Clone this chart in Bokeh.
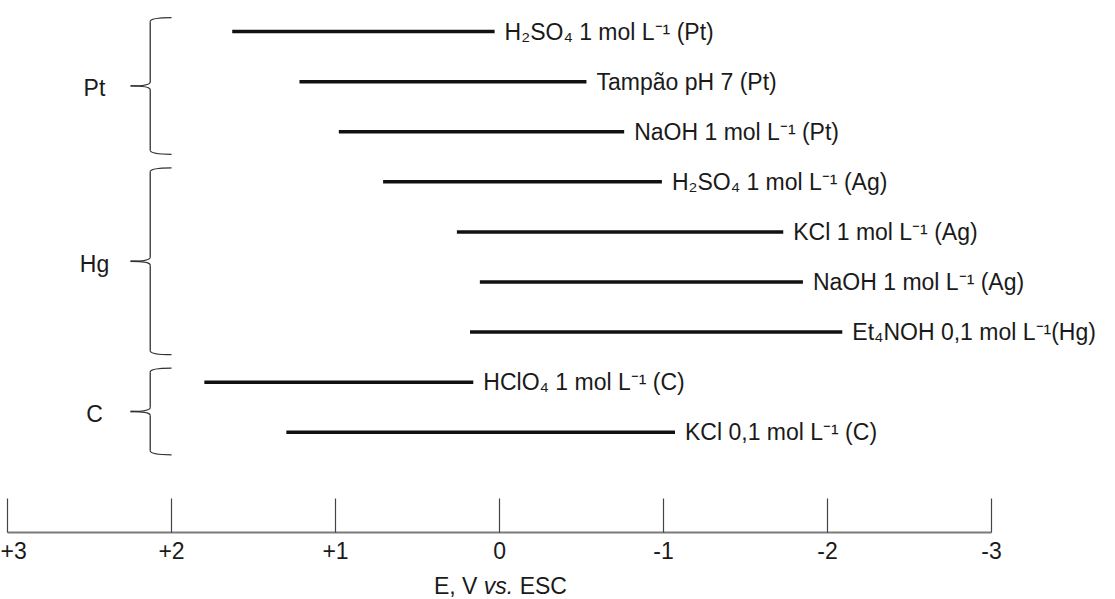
import numpy as np
from bokeh.plotting import figure
from bokeh.models import Range1d, FixedTicker, ColumnDataSource, Div
from bokeh.layouts import column
from bokeh.embed import file_html
from bokeh.resources import INLINE
from bokeh.core.properties import value

# ---------------- data ----------------
electrolytes = [
    "H₂SO₄ 1 mol L⁻¹ (Pt)",
    "Tampão pH 7  (Pt)",
    "NaOH 1 mol L⁻¹ (Pt)",
    "H₂SO₄ 1 mol L⁻¹ (Ag)",
    "KCl 1 mol L⁻¹ (Ag)",
    "NaOH 1 mol L⁻¹ (Ag)",
    "Et₄NOH 0,1 mol L⁻¹(Hg)",
    "HClO₄ 1 mol L⁻¹ (C)",
    "KCl 0,1 mol L⁻¹ (C)",
]
electrodes = ["Pt", "Pt", "Pt", "Hg", "Hg", "Hg", "Hg", "C", "C"]
anodic_limit = [1.63, 1.22, 0.98, 0.71, 0.26, 0.12, 0.18, 1.80, 1.30]      # V vs. ESC
cathodic_limit = [0.03, -0.53, -0.76, -0.99, -1.73, -1.85, -2.09, 0.16, -1.07]
group_names = ["Pt", "Hg", "C"]
tick_values = [3, 2, 1, 0, -1, -2, -3]
tick_labels = ["+3", "+2", "+1", "0", "-1", "-2", "-3"]
axis_title_html = "E, V <i>vs.</i> ESC"

rows = list(range(len(electrolytes)))

FONT = "Liberation Sans"
FSIZE = "23px"
TXT = "#1a1a1a"

p = figure(width=1115, height=570,
           x_range=Range1d(3.043, -3.756), y_range=Range1d(10.0, -0.62),
           output_backend="svg", toolbar_location=None,
           y_axis_location=None, x_axis_location="below",
           min_border_left=0, min_border_right=0, min_border_top=0,
           min_border_bottom=38)
p.xgrid.visible = False
p.ygrid.visible = False
p.outline_line_color = None
p.background_fill_color = "white"
p.border_fill_color = "white"

src = ColumnDataSource(dict(y=rows, x0=anodic_limit, x1=cathodic_limit, label=electrolytes))

# potential windows
p.segment(x0="x0", y0="y", x1="x1", y1="y", source=src, line_width=3.5, line_color="#111111")
p.text(x="x1", y="y", text="label", source=src, x_offset=10,
       text_align="left", text_baseline="middle",
       text_font=value(FONT), text_font_size=FSIZE, text_color=TXT)

# curly brackets grouping the electrodes
hook_x, spine_x, tip_x = 2.0, 2.13, 2.25
dy = 0.08
qx0, qy0, qx1, qy1, qcx, qcy = [], [], [], [], [], []
sx0, sy0, sx1, sy1 = [], [], [], []
lab_x, lab_y, lab_t = [], [], []
for g in group_names:
    idx = [i for i, e in enumerate(electrodes) if e == g]
    top = min(idx) - 0.28
    bot = max(idx) + 0.45
    mid = (top + bot) / 2
    qx0 += [hook_x]; qy0 += [top]; qx1 += [spine_x]; qy1 += [top + dy]; qcx += [spine_x]; qcy += [top]
    qx0 += [spine_x]; qy0 += [mid - dy]; qx1 += [tip_x]; qy1 += [mid]; qcx += [spine_x]; qcy += [mid]
    qx0 += [spine_x]; qy0 += [mid + dy]; qx1 += [tip_x]; qy1 += [mid]; qcx += [spine_x]; qcy += [mid]
    qx0 += [hook_x]; qy0 += [bot]; qx1 += [spine_x]; qy1 += [bot - dy]; qcx += [spine_x]; qcy += [bot]
    sx0 += [spine_x, spine_x]; sy0 += [top + dy, mid + dy]
    sx1 += [spine_x, spine_x]; sy1 += [mid - dy, bot - dy]
    lab_x.append(2.47); lab_y.append(mid + 0.05); lab_t.append(g)

p.quadratic(x0=qx0, y0=qy0, x1=qx1, y1=qy1, cx=qcx, cy=qcy, line_color="#333333", line_width=1.3)
p.segment(x0=sx0, y0=sy0, x1=sx1, y1=sy1, line_color="#333333", line_width=1.3)
p.text(x=lab_x, y=lab_y, text=lab_t, text_align="center", text_baseline="middle",
       text_font=value(FONT), text_font_size=FSIZE, text_color=TXT)

# x axis
ax = p.xaxis[0]
ax.ticker = FixedTicker(ticks=tick_values)
ax.major_label_overrides = {v: l for v, l in zip(tick_values, tick_labels)}
ax.bounds = (-3, 3)
ax.major_tick_in = 34
ax.major_tick_out = 0
ax.minor_tick_line_color = None
ax.axis_line_color = "#7a7a7a"
ax.axis_line_width = 2
ax.major_tick_line_color = "#444444"
ax.major_tick_line_width = 1.2
ax.major_label_standoff = 9
ax.major_label_text_font = FONT
ax.major_label_text_font_size = FSIZE
ax.major_label_text_color = TXT

# axis title (with italic "vs.")
title = Div(text=axis_title_html, width=1115, height=29, margin=0,
            styles={"font-family": FONT, "font-size": FSIZE, "color": TXT,
                    "line-height": "26px", "padding-top": "3px", "padding-left": "434px",
                    "box-sizing": "border-box", "white-space": "nowrap"})

layout = column(p, title, spacing=0)
open("out.html", "w").write(file_html(layout, INLINE))
